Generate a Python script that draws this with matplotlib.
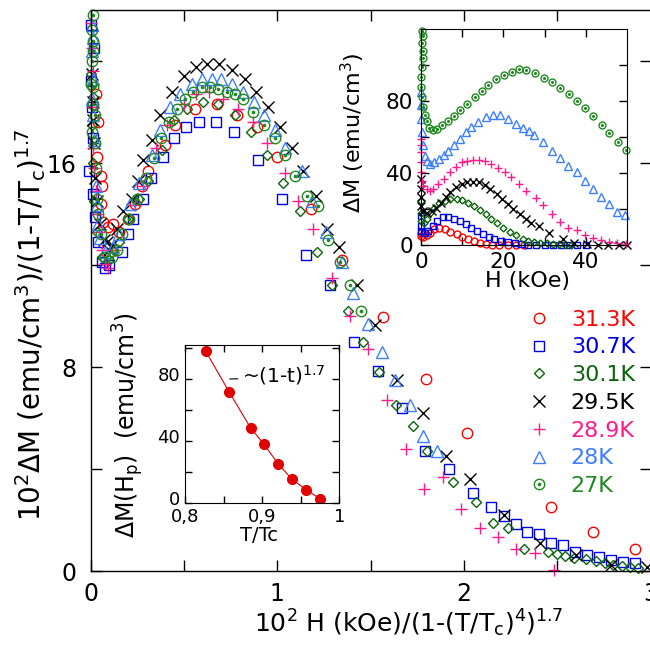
import numpy as np
import matplotlib.pyplot as plt
from matplotlib.ticker import MultipleLocator, FixedLocator, FixedFormatter
from matplotlib.legend_handler import HandlerTuple
from matplotlib.transforms import ScaledTranslation

plt.rcParams['font.family'] = ['DejaVu Sans']
plt.rcParams['mathtext.fontset'] = 'dejavusans'
plt.rcParams['mathtext.default'] = 'regular'

# main plot: scaled field vs scaled dM, one pair per temperature
x_313 = [0.028, 0.041, 0.036, 0.053, 0.059, 0.053, 0.068, 0.094, 0.121, 0.15, 0.2, 0.235, 0.273, 0.309,
         0.398, 0.452, 0.559, 0.678, 0.782, 0.889, 1.0, 1.178, 1.344, 1.568, 1.796, 2.017, 2.464, 2.689, 2.915]
y_313 = [18.7, 17.6, 16.25, 15.5, 15.1, 14.4, 13.7, 13.5, 13.6, 13.3, 13.8, 14.4, 15.1, 15.7,
         16.7, 17.5, 18.1, 18.3, 17.9, 17.4, 16.25, 14.2, 12.2, 9.95, 7.55, 5.4, 2.5, 1.54, 0.85]

x_307 = [0.0, 0.018, 0.0, 0.008, 0.01, -0.007, 0.015, 0.025, 0.04, 0.059, 0.077, 0.1, 0.166, 0.2, 0.228,
         0.282, 0.321, 0.386, 0.448, 0.51, 0.578, 0.671, 0.769, 0.898, 1.026, 1.152, 1.282, 1.41, 1.54,
         1.666, 1.79, 1.921, 2.046, 2.143, 2.214, 2.278, 2.339, 2.403, 2.464, 2.528, 2.594, 2.66, 2.724,
         2.79, 2.853, 2.915]
y_307 = [21.4, 20.5, 19.2, 18.2, 17.0, 15.7, 14.8, 13.9, 12.9, 12.1, 11.9, 12.0, 12.5, 13.2, 13.8,
         14.6, 15.4, 16.25, 17.0, 17.4, 17.6, 17.6, 17.2, 16.1, 14.6, 12.4, 11.2, 9.0, 7.85,
         6.4, 4.7, 4.0, 3.05, 2.5, 2.15, 1.84, 1.52, 1.44, 1.11, 1.02, 0.76, 0.63, 0.54,
         0.43, 0.36, 0.33]

x_301 = [0.0, 0.01, 0.005, 0.015, 0.02, 0.035, 0.06, 0.1, 0.15, 0.2, 0.26, 0.309, 0.38, 0.446, 0.517,
         0.6, 0.684, 0.773, 0.857, 0.943, 1.032, 1.121, 1.21, 1.291, 1.376, 1.46, 1.544, 1.635, 1.725,
         1.803, 1.939, 2.067, 2.153, 2.237, 2.321, 2.451, 2.496, 2.54, 2.589, 2.656, 2.707, 2.755, 2.8,
         2.844, 2.889, 2.933]
y_301 = [19.5, 18.6, 17.5, 16.0, 14.5, 13.3, 12.3, 12.2, 12.9, 13.8, 14.6, 15.3, 16.5, 17.7, 18.1,
         18.4, 18.3, 17.9, 17.2, 16.3, 15.2, 14.1, 12.5, 11.2, 10.2, 9.0, 7.8, 6.5, 5.7,
         4.7, 3.5, 2.7, 1.87, 1.7, 0.85, 0.76, 0.67, 0.59, 0.5, 0.46, 0.39, 0.3, 0.24,
         0.2, 0.14, 0.1]

x_295 = [0.005, 0.01, 0.015, 0.02, 0.023, 0.035, 0.05, 0.07, 0.086, 0.1, 0.115, 0.14, 0.175, 0.22, 0.255,
         0.282, 0.327, 0.371, 0.434, 0.5, 0.564, 0.625, 0.687, 0.758, 0.826, 0.885, 0.951, 1.014, 1.077,
         1.139, 1.207, 1.264, 1.332, 1.425, 1.523, 1.642, 1.778, 1.903, 2.032, 2.214, 2.407, 2.6, 2.79, 2.98]
y_295 = [19.5, 18.4, 17.7, 16.8, 15.4, 14.5, 13.6, 13.0, 12.9, 12.6, 12.8, 13.4, 14.1, 14.6, 15.3,
         16.1, 16.9, 17.9, 18.8, 19.4, 19.75, 19.9, 19.9, 19.65, 19.3, 18.8, 18.2, 17.4, 16.6,
         15.7, 14.7, 13.4, 12.7, 11.2, 9.65, 7.5, 6.2, 4.5, 3.6, 2.2, 1.1, 0.63, 0.24, 0.15]

x_289 = [0.0, 0.005, 0.01, 0.005, 0.012, 0.02, 0.028, 0.035, 0.045, 0.06, 0.077, 0.094, 0.13, 0.237, 0.28,
         0.35, 0.407, 0.5, 0.565, 0.635, 0.707, 0.79, 0.871, 0.943, 1.041, 1.112, 1.189, 1.291, 1.389,
         1.487, 1.589, 1.689, 1.785, 1.885, 1.983, 2.085, 2.183, 2.278, 2.38, 2.48]
y_289 = [21.5, 20.5, 19.6, 18.2, 16.6, 15.8, 14.9, 14.0, 13.3, 12.6, 12.05, 11.9, 12.6, 14.35, 15.1,
         16.6, 17.5, 18.3, 18.7, 18.8, 18.5, 18.1, 17.6, 16.8, 15.6, 14.5, 13.4, 11.5, 10.0,
         8.7, 6.7, 4.8, 3.2, 3.7, 2.45, 1.67, 1.35, 0.85, 0.69, 0.04]

x_280 = [0.005, 0.01, 0.005, 0.012, 0.005, 0.015, 0.02, 0.028, 0.033, 0.041, 0.05, 0.077, 0.12, 0.153,
         0.21, 0.26, 0.327, 0.371, 0.425, 0.478, 0.541, 0.595, 0.651, 0.7, 0.757, 0.814, 0.875, 0.928,
         0.987, 1.041, 1.13, 1.184, 1.26, 1.344, 1.407, 1.487, 1.559, 1.63, 1.71, 1.782, 1.853]
y_280 = [21.4, 20.9, 20.4, 19.3, 18.5, 17.9, 16.9, 15.1, 14.35, 13.6, 13.05, 12.5, 12.7, 13.2,
         14.4, 15.2, 16.3, 17.3, 18.2, 18.7, 19.1, 19.3, 19.3, 19.3, 19.1, 18.8, 18.4, 17.9,
         17.3, 16.6, 15.7, 14.5, 13.3, 12.1, 10.9, 9.7, 8.6, 7.5, 6.5, 5.3, 4.7]

x_270 = [0.011, 0.005, 0.014, 0.014, 0.005, 0.0, 0.014, 0.01, 0.023, 0.005, 0.023, 0.028, 0.035, 0.041,
         0.053, 0.077, 0.112, 0.139, 0.166, 0.207, 0.246, 0.296, 0.339, 0.375, 0.421, 0.46, 0.505, 0.55,
         0.595, 0.639, 0.684, 0.728, 0.773, 0.814, 0.871, 0.93, 0.987, 1.041, 1.094, 1.157, 1.219, 1.273,
         1.335, 1.389, 1.446]
y_270 = [21.8, 21.2, 20.8, 20.4, 20.0, 19.1, 19.0, 18.3, 17.9, 17.2, 16.8, 15.8, 14.6, 14.0,
         13.2, 12.3, 12.3, 12.6, 13.2, 13.8, 14.6, 15.4, 16.2, 17.0, 17.6, 18.1, 18.5, 18.8,
         19.0, 19.0, 18.9, 18.8, 18.7, 18.5, 18.0, 17.5, 17.0, 16.3, 15.5, 14.7, 14.3, 13.0,
         12.1, 11.2, 10.2]

# top inset: raw dM vs H (kOe)
h_313 = [0.0, 0.0, 0.5, 1.3, 2.1, 3.1, 4.4, 5.7, 7.1, 8.6, 10.0, 11.4, 12.8, 14.2, 15.8, 17.3, 19.0, 21.0, 23.0, 25.0]
m_313 = [6.9, 5, 4.6, 5.4, 6.9, 8.8, 9.7, 8.8, 7.3, 6, 4.6, 3.2, 2.2, 1.3, 0.4, 0.2, 0.1, 0, 0, 0]

h_307 = [0.0, 0.0, 0.0, 0.9, 1.7, 2.8, 3.9, 5.2, 6.5, 7.9, 9.4, 10.8, 12.2, 13.6, 15.0, 16.5, 17.8, 19.5,
         21.1, 22.7, 24.3, 26.0, 28.0, 30.0, 32.0, 34.0, 36.0, 38.0, 40.0]
m_307 = [16.2, 10.6, 7.8, 6.9, 7.8, 10.6, 13.4, 15.3, 15.6, 14.7, 13.4, 11.6, 9.7, 7.8, 6.0, 4.6, 3.5, 2.2,
         1.7, 0.9, 0.4, 0.2, 0.1, 0, 0, 0, 0, 0, 0]

h_301 = [0.0, 0.0, 0.0, 0.7, 1.3, 2.1, 3.1, 4.4, 5.7, 7.1, 8.6, 10.0, 11.4, 12.8, 14.2, 15.7, 17.0, 18.5,
         20.0, 21.5, 23.1, 24.7, 25.9, 27.5, 29.0, 30.5, 32.0, 33.5, 35.0, 36.5]
m_301 = [24.6, 18, 13.4, 12.5, 14.4, 18, 20.8, 23.3, 24.6, 25.5, 25.5, 25, 23.6, 21.8, 19.6, 17.2, 14.7, 12.5,
         9.7, 7.3, 5.4, 3.5, 2.2, 1.6, 1.2, 0.9, 0.6, 0.4, 0.2, 0.1]

h_295 = [0.0, 0.0, 0.0, 0.0, 0.5, 1.5, 2.5, 3.6, 4.7, 5.9, 7.1, 8.4, 9.8, 11.1, 12.6, 14.0, 15.4, 16.8,
         18.3, 19.7, 21.1, 22.4, 23.9, 25.5, 26.7, 28.7, 31.1, 34.4, 37.2, 40.4, 43.0, 45.5, 48.0, 50.0]
m_295 = [36.7, 31, 26.4, 21.8, 19, 18, 19, 20.8, 23.6, 26.4, 29.2, 32, 33.9, 35.2, 35.2, 34.8, 33.4, 31.1,
         28.3, 25.5, 22.7, 19.9, 17.2, 14.4, 12.5, 10.6, 6.9, 3.5, 1.3, 0.4, 0.2, 0.1, 0, 0]

h_289 = [0.0, 0.0, 0.0, 0.0, 0.0, 0.1, 0.5, 1.3, 2.1, 2.9, 4.1, 5.5, 6.9, 8.4, 9.8, 11.1, 12.6, 14.0, 15.4,
         17.0, 18.6, 20.3, 21.9, 23.7, 25.5, 27.8, 29.7, 31.7, 33.7, 35.8, 37.8, 39.9, 41.8, 43.8, 45.7,
         47.7, 49.9]
m_289 = [59, 55.3, 51.4, 46, 40.4, 35.8, 33, 31.1, 30.2, 31.1, 33.9, 36.7, 40.4, 43.2, 46, 46.9, 47.5, 47.5, 46.9,
         45, 42.6, 40.4, 37.6, 33.9, 30.2, 25.9, 22.2, 17.2, 12.8, 9.7, 8.4, 5.4, 4.1, 2.8, 1.7,
         0.9, 0.4]

h_280 = [0.0, 0.0, 0.0, 0.1, 0.5, 0.9, 1.3, 2.1, 3.1, 4.3, 5.4, 6.5, 8.0, 9.4, 10.8, 12.2, 13.8, 15.7, 17.4,
         19.2, 21.0, 23.0, 24.7, 26.1, 27.5, 29.7, 31.8, 33.8, 35.8, 37.8, 39.9, 41.8, 43.7, 45.7, 47.7, 49.7]
m_280 = [85, 78, 70, 62.7, 55.3, 49.7, 46.4, 45, 46, 47.9, 50, 52.5, 55.7, 59, 62.7, 65.5, 68.3, 71.1, 72.5,
         72, 70.2, 67.4, 65, 63.5, 61.3, 57.2, 52.5, 48.2, 43.7, 40.4, 35.8, 31.1, 26.4, 22.7, 18.4, 16.6]

h_270 = [0.1, 0.4, 0.2, 0.3, 0.4, 0.2, 0.0, 0.0, 0.2, 0.5, 0.9, 1.3, 1.9, 2.8, 3.7, 5.0, 6.4, 8.0, 9.4, 11.2,
         13.1, 14.7, 16.3, 18.2, 20.1, 22.0, 23.8, 25.6, 27.7, 29.9, 31.8, 33.7, 35.9, 37.8, 39.8, 41.9,
         43.9, 45.7, 47.9, 49.8]
m_270 = [119, 116, 112, 108, 104, 99, 93.5, 87.9, 82, 76.7, 72.5, 68.7, 65, 63.7, 64.6, 66.5, 68.7, 71.7, 74.9, 78.6,
         82.3, 85.5, 88.8, 92, 94.4, 96.3, 97.6, 97.0, 95.5, 92.9, 90.3, 87.5, 83.8, 79.9, 76.2, 71.7,
         66.9, 62.4, 57.5, 52.9]

# bottom inset: peak dM vs reduced temperature
t_red = [0.827, 0.857, 0.885, 0.902, 0.921, 0.939, 0.957, 0.975]
dm_peak = [97.8, 71.8, 48.4, 38.1, 24.9, 15.1, 8.4, 2.6]

labels = ['31.3K', '30.7K', '30.1K', '29.5K', '28.9K', '28K', '27K']
colors = ['#ff0000', '#0000e6', '#0a640a', '#000000', '#ff1a8c', '#3d7fff', '#1f8a1f']
markers = ['o', 's', 'D', 'x', '+', '^', 'o']
main_ms = [7.5, 7.5, 5, 8, 8.5, 8, 7.5]
ins_ms = [5, 5, 3.5, 5.5, 6, 5.5, 5]

main_x = [x_313, x_307, x_301, x_295, x_289, x_280, x_270]
main_y = [y_313, y_307, y_301, y_295, y_289, y_280, y_270]
ins_h = [h_313, h_307, h_301, h_295, h_289, h_280, h_270]
ins_m = [m_313, m_307, m_301, m_295, m_289, m_280, m_270]

fig = plt.figure(figsize=(6.5, 6.52), dpi=100)
ax = fig.add_axes([0.1395, 0.1242, 0.8615, 0.8604])

handles = []
for i in range(7):
    h = ax.plot(main_x[i], main_y[i], linestyle='none', marker=markers[i], ms=main_ms[i],
                mfc='none', mec=colors[i], mew=1.0, clip_on=False)[0]
    if i == 6:
        d = ax.plot(main_x[i], main_y[i], linestyle='none', marker='o', ms=1.6,
                    mfc=colors[i], mec=colors[i], clip_on=False)[0]
        handles.append((h, d))
    else:
        handles.append(h)

ax.set_xlim(0, 3)
ax.set_ylim(0, 22)
ax.xaxis.set_major_locator(MultipleLocator(1))
ax.xaxis.set_minor_locator(MultipleLocator(0.5))
ax.yaxis.set_major_locator(MultipleLocator(8))
ax.yaxis.set_minor_locator(MultipleLocator(4))
ax.tick_params(which='both', direction='in', top=True, right=True, length=8, width=1)
ax.tick_params(axis='both', labelsize=17)
ax.tick_params(axis='x', pad=8)
ax.tick_params(axis='y', pad=10)
for s in ax.spines.values():
    s.set_linewidth(1.0)
ax.set_xlabel('10$^2$ H (kOe)/(1-(T/T$_c$)$^4$)$^{1.7}$', fontsize=18)
ax.xaxis.set_label_coords(0.567, -0.066)
ax.set_ylabel('10$^2$ΔM (emu/cm$^3$)/(1-T/T$_c$)$^{1.7}$', fontsize=20)
ax.yaxis.set_label_coords(-0.077, 0.44)

leg = ax.legend(handles, labels, loc='upper left', bbox_to_anchor=(0.78, 0.466), frameon=False,
                fontsize=16, handlelength=1.0, handletextpad=0.95, labelspacing=0.35,
                borderpad=0, borderaxespad=0, handler_map={tuple: HandlerTuple(ndivide=1)})
for t, c in zip(leg.get_texts(), colors):
    t.set_color(c)

# top-right inset
ax1 = fig.add_axes([0.6482, 0.6242, 0.316, 0.3313])
for i in range(7):
    ax1.plot(ins_h[i], ins_m[i], linestyle='none', marker=markers[i], ms=ins_ms[i],
             mfc='none', mec=colors[i], mew=1.0, clip_on=False)
    if i == 6:
        ax1.plot(ins_h[i], ins_m[i], linestyle='none', marker='o', ms=1.2,
                 mfc=colors[i], mec=colors[i], clip_on=False)
ax1.set_xlim(0, 50)
ax1.set_ylim(0, 120)
ax1.set_xticks([0, 20, 40])
ax1.set_xticks([10, 30], minor=True)
ax1.set_yticks([0, 40, 80])
ax1.set_yticks([20, 60, 100], minor=True)
ax1.tick_params(which='both', direction='in', top=True, right=True, length=6, width=1, labelsize=15.5)
ax1.tick_params(axis='x', pad=5)
ax1.tick_params(axis='y', pad=6)
ax1.set_xlabel('H (kOe)', fontsize=16)
ax1.xaxis.set_label_coords(0.515, -0.118)
ax1.set_ylabel('ΔM (emu/cm$^3$)', fontsize=16)
ax1.yaxis.set_label_coords(-0.264, 0.52)

# bottom inset
ax2 = fig.add_axes([0.2846, 0.229, 0.2374, 0.2419])
ax2.plot(t_red, dm_peak, '-', color='#e00000', lw=0.8)
ax2.plot(t_red, dm_peak, 'o', color='#e00000', ms=7)
ax2.set_xlim(0.8, 1.0)
ax2.set_ylim(0, 102)
ax2.xaxis.set_major_locator(FixedLocator([0.8, 0.9, 1.0]))
ax2.xaxis.set_major_formatter(FixedFormatter(['0,8', '0,9', '1']))
ax2.set_xticks([0.85, 0.95], minor=True)
ax2.set_yticks([0, 40, 80])
ax2.set_yticks([20, 60, 100], minor=True)
ax2.tick_params(which='both', direction='in', top=True, right=True, length=5, width=1, labelsize=13)
ax2.tick_params(axis='x', pad=3.5)
ax2.tick_params(axis='y', pad=3.5)
for lab in ax2.get_yticklabels():
    lab.set_transform(lab.get_transform() + ScaledTranslation(0, 3.5 / 72, fig.dpi_scale_trans))
ax2.set_xlabel('T/Tc', fontsize=14)
ax2.xaxis.set_label_coords(0.48, -0.15)
ax2.set_ylabel('ΔM(H$_p$)  (emu/cm$^3$)', fontsize=17)
ax2.yaxis.set_label_coords(-0.25, 0.49)
ax2.annotate('~(1-t)$^{1.7}$', xy=(0.858, 80), xytext=(0.874, 82.5), fontsize=14.5,
             ha='left', va='center',
             arrowprops=dict(arrowstyle='-', lw=0.8, color='k', relpos=(0, 0.35), shrinkA=1, shrinkB=0))

fig.savefig('out.png', dpi=100)
